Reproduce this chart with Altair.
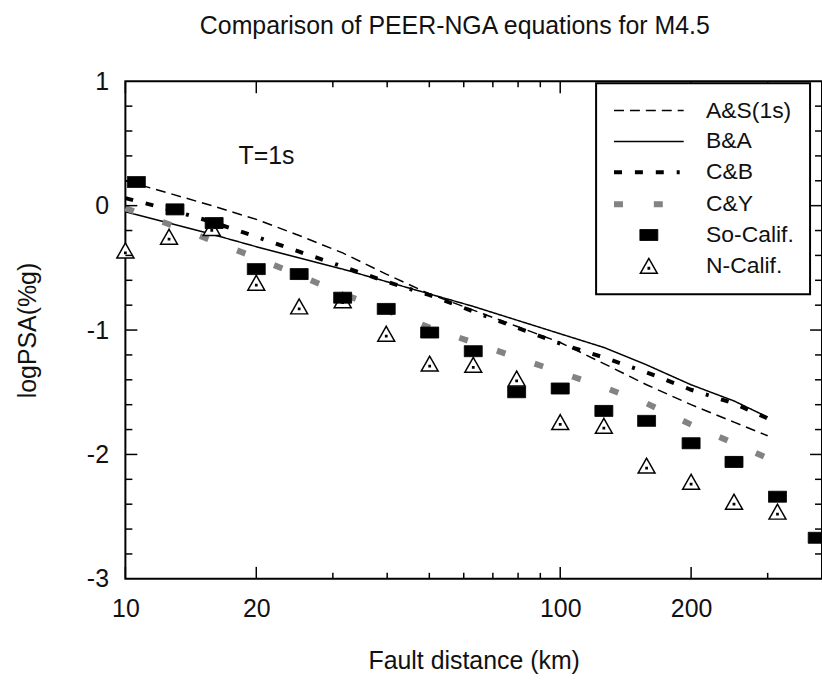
import altair as alt
import pandas as pd

FONT = "Liberation Sans"
TXT = "#111111"

title_text = "Comparison of PEER-NGA equations for M4.5"
x_title = "Fault distance (km)"
y_title = "logPSA(%g)"
annotation_text = ["T=1s"]
annotation_x = [18.2]
annotation_y = [0.4]

series_names = ["A&S(1s)", "B&A", "C&B", "C&Y", "So-Calif.", "N-Calif."]
line_names = ["A&S(1s)", "B&A", "C&B", "C&Y"]

curve_dist = [10, 12.6, 15.8, 20, 25.1, 31.6, 39.8, 50.1, 63.1, 79.4, 100, 126, 158, 200, 251, 300]
as_vals = [0.20, 0.10, 0.00, -0.11, -0.24, -0.38, -0.55, -0.71, -0.84, -0.97, -1.10, -1.27, -1.44, -1.60, -1.74, -1.85]
ba_vals = [-0.05, -0.14, -0.23, -0.33, -0.42, -0.51, -0.61, -0.71, -0.81, -0.92, -1.03, -1.14, -1.28, -1.44, -1.57, -1.70]
cb_vals = [0.06, -0.03, -0.13, -0.25, -0.37, -0.49, -0.61, -0.72, -0.85, -0.98, -1.11, -1.22, -1.34, -1.48, -1.59, -1.71]
cy_vals = [-0.02, -0.15, -0.28, -0.42, -0.56, -0.71, -0.84, -0.98, -1.10, -1.22, -1.34, -1.46, -1.59, -1.76, -1.91, -2.03]

so_dist = [10.6, 13.0, 16.0, 20, 25.1, 31.6, 39.8, 50.1, 63.1, 79.4, 100, 126, 158, 200, 251, 316, 390]
so_vals = [0.19, -0.03, -0.14, -0.51, -0.55, -0.74, -0.83, -1.02, -1.17, -1.50, -1.47, -1.65, -1.73, -1.91, -2.06, -2.34, -2.67]
nc_dist = [10, 12.6, 15.8, 20, 25.1, 31.6, 39.8, 50.1, 63.1, 79.4, 100, 126, 158, 200, 251, 316]
nc_vals = [-0.36, -0.25, -0.18, -0.62, -0.81, -0.76, -1.03, -1.27, -1.28, -1.39, -1.74, -1.77, -2.09, -2.22, -2.38, -2.46]

x_label_values = [10, 20, 100, 200]
x_major_ticks = [10, 20, 100, 200]
x_minor_ticks = [30, 40, 50, 60, 70, 80, 90, 300]
y_label_values = [-3, -2, -1, 0, 1]
y_major_ticks = [-2, -1, 0]
y_minor_ticks = [-2.8, -2.6, -2.4, -2.2, -1.8, -1.6, -1.4, -1.2, -0.8, -0.6, -0.4, -0.2,
                 0.2, 0.4, 0.6, 0.8]

# styles per series (same order as series_names)
series_colors = ["black", "black", "black", "#838383", "black", "black"]
series_dashes = [[10, 6], [1, 0], [8, 13, 8, 13, 8, 13, 3, 13], [9, 31], [1, 0], [1, 0]]
series_widths = [1.5, 1.5, 4, 6, 1, 1.5]
# every symbol path spans the same horizontal extent (lone move-tos), so legend rows align
SPAN = "M-4.375,0M4.375,0"
LINE_PATH = "M-4.375,0L4.375,0"
RECT_PATH = SPAN + "M-1.125,-0.6875L1.125,-0.6875L1.125,0.6875L-1.125,0.6875Z"
TRI_PATH = SPAN + "M0,-0.9375L1.0625,0.9375L-1.0625,0.9375Z M-0.08,0.22L0.08,0.22L0.08,0.38L-0.08,0.38Z"
series_shapes = [LINE_PATH, LINE_PATH, LINE_PATH, LINE_PATH, RECT_PATH, TRI_PATH]
series_fills = ["transparent", "transparent", "transparent", "transparent", "black", "white"]

# ---- tables ----
line_tables = {}
for name, vals in zip(line_names, [as_vals, ba_vals, cb_vals, cy_vals]):
    line_tables[name] = pd.DataFrame({"dist": curve_dist, "val": vals})

prow = []
for d, v in zip(nc_dist, nc_vals):
    prow.append({"series": "N-Calif.", "dist": d, "val": v})
for d, v in zip(so_dist, so_vals):
    prow.append({"series": "So-Calif.", "dist": d, "val": v})
points_df = pd.DataFrame(prow)

text_df = pd.DataFrame({"dist": annotation_x, "val": annotation_y, "label": annotation_text})

# ---- scales / axes ----
W, H = 700, 500
xs = alt.Scale(type="log", domain=[10, 400], nice=False)
ys = alt.Scale(domain=[-3, 1], nice=False, zero=False)

x_axis = alt.Axis(values=x_label_values, labelExpr="'' + datum.value", title=x_title,
                  titleX=W / 2, titleY=90, titleAlign="center", titleBaseline="alphabetic",
                  labelPadding=18, tickSize=0, ticks=False, domain=False, grid=False,
                  labelFlush=False, labelOverlap=False)
y_axis = alt.Axis(values=y_label_values, labelExpr="'' + datum.value", title=y_title,
                  titleX=-90, titleY=H / 2, titleAngle=270, titleAlign="center",
                  titleBaseline="alphabetic", labelPadding=17, tickSize=0, ticks=False,
                  domain=False, grid=False)

color_scale = alt.Scale(domain=series_names, range=series_colors)
dash_scale = alt.Scale(domain=series_names, range=series_dashes)
width_scale = alt.Scale(type="ordinal", domain=series_names, range=series_widths)
shape_scale = alt.Scale(domain=series_names, range=series_shapes)
fill_scale = alt.Scale(domain=series_names, range=series_fills)

NBSP = "\u00a0" * 4
leg = alt.Legend(title=None, orient="none", legendX=473, legendY=2, columns=1,
                 labelFont=FONT, labelFontSize=23, labelColor=TXT, labelAlign="left",
                 labelExpr="datum.label + '" + NBSP + "'",
                 symbolSize=256, symbolOffset=25.5, labelOffset=46, rowPadding=7.0,
                 padding=16, strokeColor="black", fillColor="white",
                 symbolFillColor="white")

X = alt.X("dist:Q", scale=xs, axis=x_axis)
Y = alt.Y("val:Q", scale=ys, axis=y_axis)

line_layers = []
for name in line_names:
    i = series_names.index(name)
    line_layers.append(
        alt.Chart(line_tables[name]).mark_line(
            color=series_colors[i], strokeDash=series_dashes[i],
            strokeWidth=series_widths[i]).encode(x=X, y=Y)
    )

points = alt.Chart(points_df).mark_point(size=256, filled=False, opacity=1).encode(
    x=X, y=Y,
    shape=alt.Shape("series:N", scale=shape_scale, legend=leg),
    fill=alt.Fill("series:N", scale=fill_scale, legend=leg),
    color=alt.Color("series:N", scale=color_scale, legend=leg),
    strokeDash=alt.StrokeDash("series:N", scale=dash_scale, legend=leg),
    strokeWidth=alt.StrokeWidth("series:N", scale=width_scale, legend=leg),
)

text = alt.Chart(text_df).mark_text(align="left", baseline="middle", font=FONT,
                                    fontSize=25, color=TXT).encode(
    x=X, y=Y, text="label:N")


def xticks(vals, length):
    df = pd.DataFrame({"dist": vals})
    bottom = alt.Chart(df).mark_rule(color="black", strokeWidth=1.5).encode(
        x=X, y=alt.value(H), y2=alt.value(H - length))
    top = alt.Chart(df).mark_rule(color="black", strokeWidth=1.5).encode(
        x=X, y=alt.value(0), y2=alt.value(length))
    return [bottom, top]


def yticks(vals, length):
    df = pd.DataFrame({"val": vals})
    left = alt.Chart(df).mark_rule(color="black", strokeWidth=1.5).encode(
        y=Y, x=alt.value(0), x2=alt.value(length))
    right = alt.Chart(df).mark_rule(color="black", strokeWidth=1.5).encode(
        y=Y, x=alt.value(W), x2=alt.value(W - length))
    return [left, right]


tick_layers = xticks(x_major_ticks, 12) + xticks(x_minor_ticks, 6) + \
    yticks(y_major_ticks, 12) + yticks(y_minor_ticks, 7)

chart = alt.layer(*line_layers, points, text, *tick_layers).properties(
    width=W, height=H,
    title=alt.Title(title_text, font=FONT, fontSize=25, fontWeight="normal", color=TXT,
                    anchor="middle", frame="group", offset=10, baseline="alphabetic", dx=-19),
    autosize=alt.AutoSizeParams(type="none"),
    padding={"left": 126, "top": 80, "right": 0, "bottom": 100},
).configure_view(
    stroke="black", strokeWidth=2
).configure_axis(
    labelFont=FONT, labelFontSize=25, labelColor=TXT,
    titleFont=FONT, titleFontSize=25, titleFontWeight="normal", titleColor=TXT,
).configure_legend(
    strokeWidth=2
)

chart.save("out.html", embed_options={"renderer": "svg", "actions": False})
